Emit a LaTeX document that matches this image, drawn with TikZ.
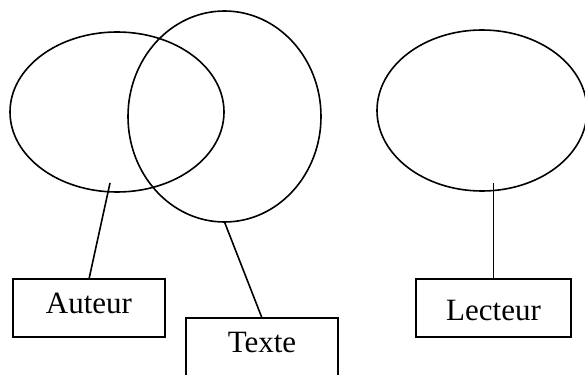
\documentclass[tikz,border=0pt]{standalone}
\usepackage{fontspec}
\setmainfont{Liberation Serif}
\usetikzlibrary{shapes.geometric}
\begin{document}
\begin{tikzpicture}[x=1pt,y=-1pt,line width=1.6pt,
  oval/.style={draw,ellipse,inner sep=0pt,outer sep=0pt},
  labelbox/.style={draw,rectangle,inner sep=0pt,outer sep=0pt,font=\fontsize{31}{36}\selectfont},
  link/.style={draw,line width=1.6pt}]
\useasboundingbox (0,0) rectangle (585,374);
\begin{scope}
\clip (0,0) rectangle (585,374);
\node[oval,minimum width=214pt,minimum height=160pt] (auteurset) at (117,112) {};
\node[oval,minimum width=193pt,minimum height=211pt] (texteset) at (224.5,116.5) {};
\node[oval,minimum width=210pt,minimum height=161pt] (lecteurset) at (482,110.5) {};
\node[labelbox,minimum width=152pt,minimum height=58pt,text height=20pt,text depth=10pt] (auteur) at (89,308) {Auteur};
\node[labelbox,minimum width=152pt,minimum height=62pt,text height=20pt,text depth=14pt] (texte) at (262,349) {Texte};
\node[labelbox,minimum width=155pt,minimum height=58pt,text height=24pt,text depth=0pt] (lecteur) at (493.5,308) {Lecteur};
\coordinate (a1) at (110,183);
\coordinate (l1) at (493.5,183);
\draw[link] (a1) -- (auteur.north);
\draw[link] (texteset.south) -- (texte.north);
\draw[link] (l1) -- (lecteur.north);
\end{scope}
\end{tikzpicture}
\end{document}
